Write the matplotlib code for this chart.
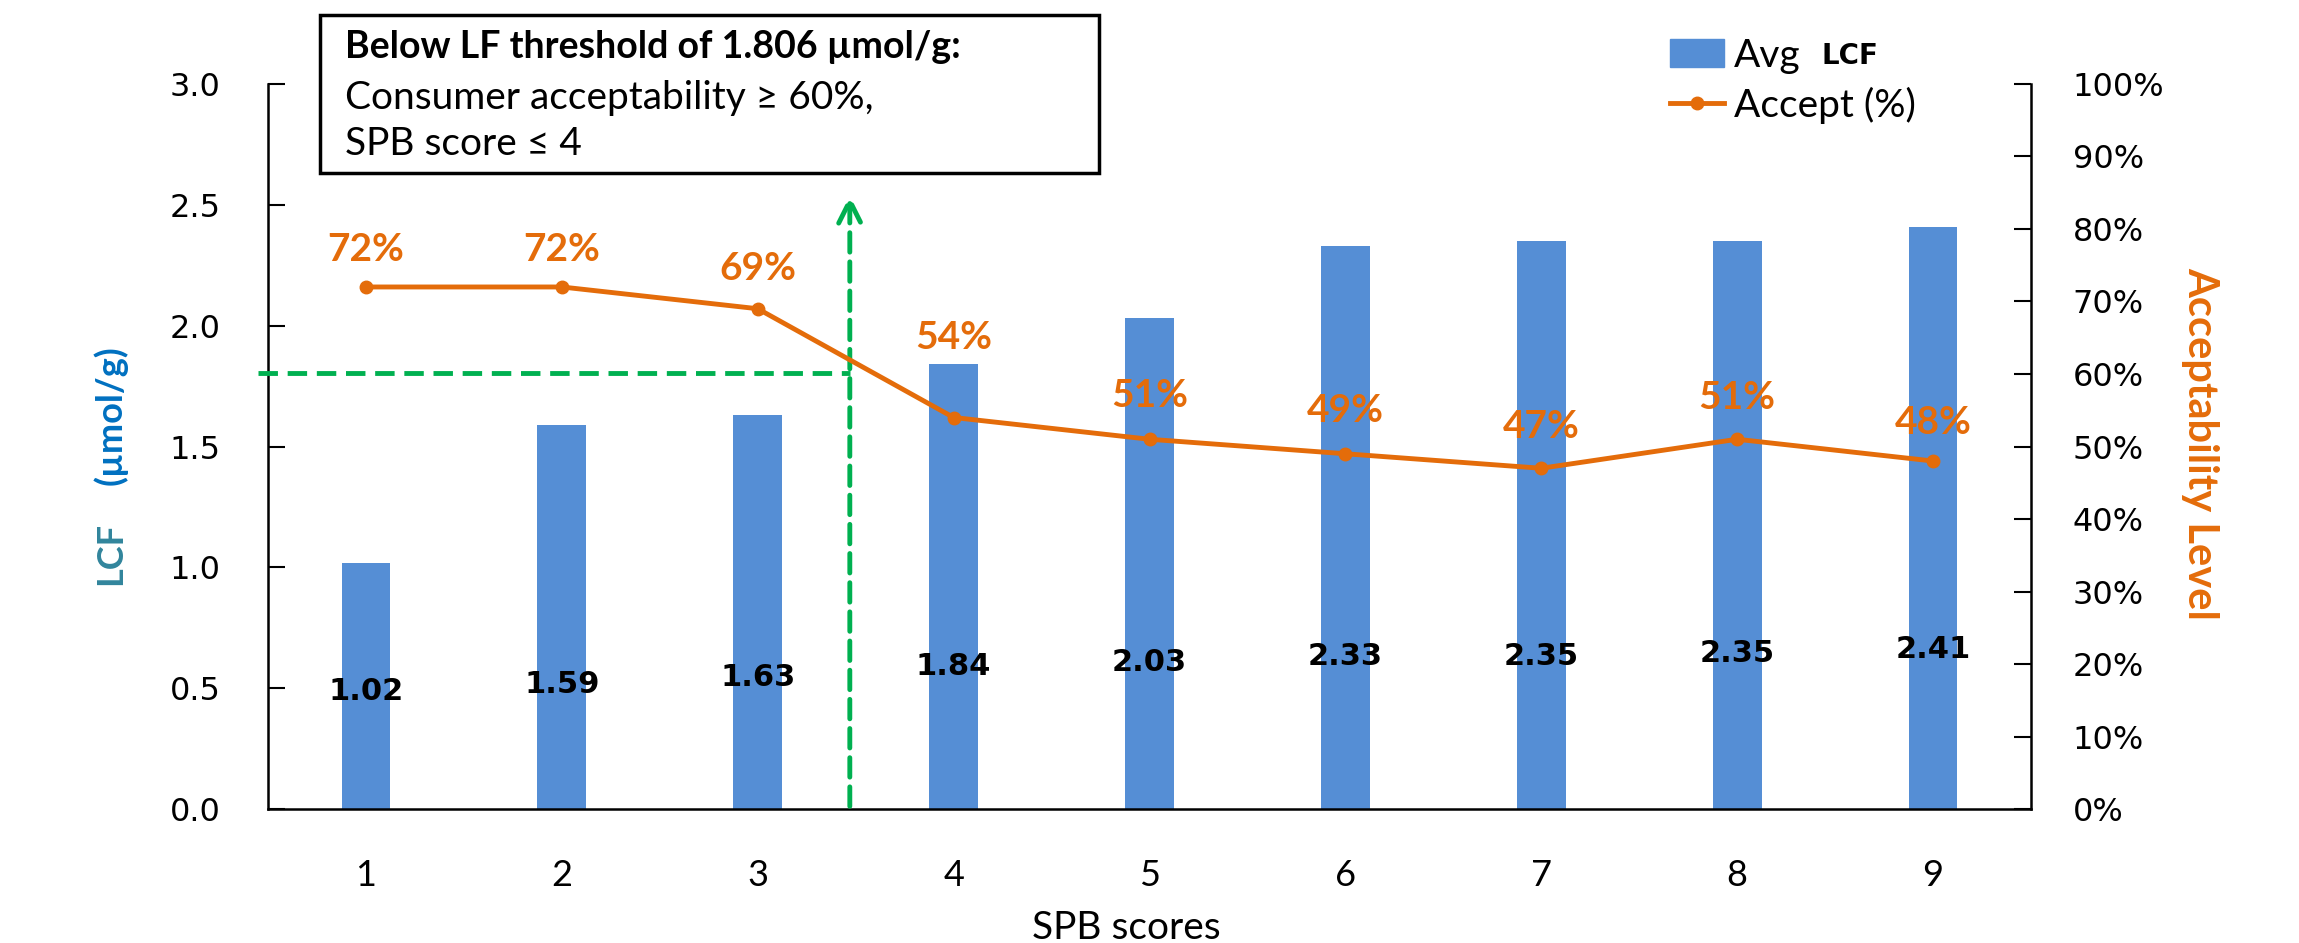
import matplotlib.pyplot as plt
from matplotlib.lines import Line2D
from matplotlib.patches import Patch
from matplotlib.ticker import PercentFormatter

BAR_BLUE = '#558ED5'
ORANGE = '#E46C0A'
GREEN = '#00B050'
TEAL = '#31859C'
LABEL_BLUE = '#0070C0'

scores = [1, 2, 3, 4, 5, 6, 7, 8, 9]
avg_lcf = [1.02, 1.59, 1.63, 1.84, 2.03, 2.33, 2.35, 2.35, 2.41]
accept = [0.72, 0.72, 0.69, 0.54, 0.51, 0.49, 0.47, 0.51, 0.48]
lf_threshold = 1.806

# where the bar value labels sit (data units of the left axis)
label_y = [0.485, 0.515, 0.545, 0.59, 0.605, 0.63, 0.63, 0.645, 0.66]
# how far each percentage label sits above its point
pct_lift = [0.052, 0.052, 0.055, 0.11, 0.06, 0.06, 0.057, 0.058, 0.053]

plt.rcParams['font.family'] = ['Lato', 'DejaVu Sans']

fig = plt.figure(figsize=(22.99, 9.43), dpi=100)
ax = fig.add_axes([0.1166, 0.142, 0.7668, 0.769])
ax2 = ax.twinx()

bars = ax.bar(scores, avg_lcf, width=0.25, color=BAR_BLUE, zorder=2)
ax.set_xlim(0.5, 9.5)
ax.set_ylim(0, 3.0)
ax.set_yticks([0, 0.5, 1.0, 1.5, 2.0, 2.5, 3.0])
ax.set_yticklabels([f'{v:.1f}' for v in ax.get_yticks()],
                   family='DejaVu Sans', fontsize=23)
ax.set_xticks(scores)
ax.set_xticklabels([str(s) for s in scores], fontsize=26)
ax.tick_params(axis='x', length=0, pad=36)
ax.tick_params(axis='y', direction='in', length=12, width=1.5, pad=34)
for side in ('top', 'right'):
    ax.spines[side].set_visible(False)
for side in ('left', 'bottom'):
    ax.spines[side].set_linewidth(1.8)

# value labels inside the bars
for b, v, y in zip(bars, avg_lcf, label_y):
    ax.text(b.get_x() + b.get_width() / 2, y, f'{v:.2f}',
            ha='center', va='center', fontsize=22, fontweight='bold',
            family='DejaVu Sans', zorder=4)

ax2.plot(scores, accept, color=ORANGE, lw=3.5, marker='o', ms=9, zorder=3)
ax2.set_ylim(0, 1.0)
ax2.set_yticks([i / 10 for i in range(11)])
ax2.yaxis.set_major_formatter(PercentFormatter(1.0, decimals=0))
for t in ax2.get_yticklabels():
    t.set_family('DejaVu Sans')
ax2.tick_params(axis='y', direction='in', length=12, width=1.5, pad=30,
                labelsize=23)
for side in ('top', 'left', 'bottom'):
    ax2.spines[side].set_visible(False)
ax2.spines['right'].set_linewidth(1.8)

for s, a, lift in zip(scores, accept, pct_lift):
    ax2.text(s, a + lift, f'{a * 100:.0f}%', ha='center', va='center',
             color=ORANGE, fontsize=28, fontweight='bold', zorder=5)

# threshold guides
ax.plot([0.45, 3.47], [lf_threshold, lf_threshold], color=GREEN, lw=3.5,
        ls=(0, (4, 2)), zorder=3, clip_on=False)
ax.annotate('', xy=(3.47, 2.55), xytext=(3.47, 0),
            arrowprops=dict(arrowstyle='->', color=GREEN, lw=3.5,
                            ls=(0, (4, 2)), mutation_scale=40),
            zorder=3)

# axis titles
fig.text(0.048, 0.413, 'LCF', rotation=90, color=TEAL, fontsize=26,
         fontweight='bold', ha='center', va='center')
fig.text(0.048, 0.56, '(µmol/g)', rotation=90, color=LABEL_BLUE,
         fontsize=26, fontweight='bold', ha='center', va='center')
fig.text(0.957, 0.53, 'Acceptability Level', rotation=270, color=ORANGE,
         fontsize=30, fontweight='bold', ha='center', va='center')
fig.text(0.49, 0.016, 'SPB scores', ha='center', va='center', fontsize=28)

# note box
fig.text(0.150, 0.950, 'Below LF threshold of 1.806 µmol/g:', fontsize=27,
         fontweight='bold', va='center')
fig.text(0.150, 0.896, 'Consumer acceptability ≥ 60%,', fontsize=28,
         va='center')
fig.text(0.150, 0.847, 'SPB score ≤ 4', fontsize=28, va='center')
fig.patches.append(plt.Rectangle((0.139, 0.8165), 0.339, 0.1675,
                                 transform=fig.transFigure, fill=False,
                                 ec='black', lw=2.5))

handles = [Patch(color=BAR_BLUE),
           Line2D([], [], color=ORANGE, lw=3.5, marker='o', ms=9)]
fig.legend(handles, ['Avg', 'Accept (%)'], loc='upper left',
           bbox_to_anchor=(0.7264, 0.960), frameon=False, fontsize=28,
           borderpad=0, borderaxespad=0, handlelength=1.4,
           handletextpad=0.25, labelspacing=0.33)
fig.text(0.7925, 0.941, 'LCF', fontsize=20, fontweight='bold',
         family='DejaVu Sans', va='center')

fig.savefig('out.png', dpi=100)
